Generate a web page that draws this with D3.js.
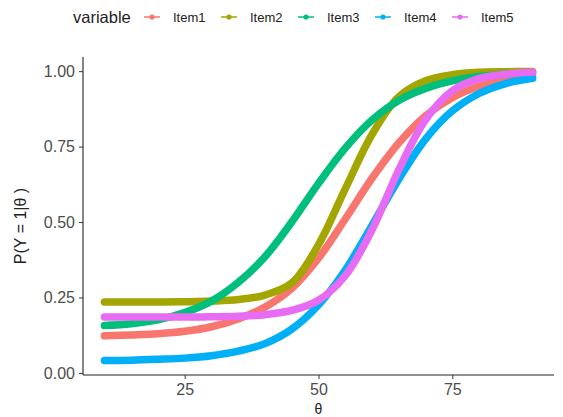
<!DOCTYPE html>
<html>
<head>
<meta charset="utf-8">
<script src="https://cdn.jsdelivr.net/npm/d3@7"></script>
<style>
  body { margin: 0; background: #fff; }
  text { font-family: "Liberation Sans", Arial, sans-serif; }
</style>
</head>
<body>
<script>
// Item characteristic curves

var theta = [10, 15, 20, 25, 30, 35, 40, 45, 50, 55, 60, 65, 70, 75, 80, 85, 90];

var item1 = [0.123, 0.126, 0.130, 0.138, 0.153, 0.179, 0.218, 0.280, 0.380, 0.510, 0.645, 0.762, 0.852, 0.912, 0.950, 0.972, 0.985];
var item2 = [0.235, 0.235, 0.235, 0.236, 0.238, 0.243, 0.258, 0.298, 0.425, 0.610, 0.790, 0.915, 0.968, 0.988, 0.996, 0.998, 0.999];
var item3 = [0.157, 0.163, 0.176, 0.200, 0.238, 0.300, 0.385, 0.500, 0.628, 0.745, 0.838, 0.903, 0.943, 0.968, 0.982, 0.990, 0.995];
var item4 = [0.041, 0.042, 0.045, 0.049, 0.057, 0.072, 0.097, 0.145, 0.225, 0.341, 0.489, 0.642, 0.775, 0.868, 0.926, 0.959, 0.976];
var item5 = [0.185, 0.185, 0.185, 0.185, 0.186, 0.188, 0.193, 0.207, 0.241, 0.322, 0.474, 0.673, 0.839, 0.935, 0.975, 0.990, 0.996];

var names = ["Item1", "Item2", "Item3", "Item4", "Item5"];
var colors = ["#F8766D", "#A3A500", "#00BF7D", "#00B0F6", "#E76BF3"];

var yTicks = [0, 0.25, 0.5, 0.75, 1];
var xTicks = [25, 50, 75];

// 1. Margins, width and height

var margin = {top: 57, right: 9, bottom: 42, left: 83},
    width = 563 - margin.left - margin.right,
    height = 417 - margin.top - margin.bottom;

var series = [item1, item2, item3, item4, item5].map(function(vals, i) {
  return {
    name: names[i],
    color: colors[i],
    values: vals.map(function(v, j) { return {t: theta[j], p: v}; })
  };
});

// 2. Scales (ggplot style 5% expansion)

var allP = [].concat(item1, item2, item3, item4, item5);
var pMin = d3.min(allP), pMax = d3.max(allP), pPad = (pMax - pMin) * 0.05;
var tMin = d3.min(theta), tMax = d3.max(theta), tPad = (tMax - tMin) * 0.05;

var x = d3.scaleLinear().domain([tMin - tPad, tMax + tPad]).range([0, width]);
var y = d3.scaleLinear().domain([pMin - pPad, pMax + pPad]).range([height, 0]);

// 3. SVG

var svg = d3.select("body").append("svg")
    .attr("width", 563)
    .attr("height", 417);

var g = svg.append("g")
    .attr("transform", "translate(" + margin.left + "," + margin.top + ")");

// Curves

var line = d3.line()
    .x(function(d) { return x(d.t); })
    .y(function(d) { return y(d.p); })
    .curve(d3.curveCatmullRom.alpha(0.5));

g.selectAll(".curve")
    .data(series)
    .enter().append("path")
    .attr("class", "curve")
    .attr("d", function(d) { return line(d.values); })
    .attr("fill", "none")
    .attr("stroke", function(d) { return d.color; })
    .attr("stroke-width", 7.5)
    .attr("stroke-linecap", "round")
    .attr("stroke-linejoin", "round");

// Axes

var yAxis = g.append("g")
    .call(d3.axisLeft(y).tickValues(yTicks).tickFormat(d3.format(".2f")).tickSize(4).tickPadding(4));
var xAxis = g.append("g")
    .attr("transform", "translate(0," + height + ")")
    .call(d3.axisBottom(x).tickValues(xTicks).tickFormat(d3.format("d")).tickSize(4).tickPadding(5));

[xAxis, yAxis].forEach(function(a) {
  a.select(".domain").attr("stroke", "#222").attr("stroke-width", 1.1)
      .attr("d", a === xAxis ? "M0,0H" + width : "M0,0V" + height);
  a.selectAll(".tick line").attr("stroke", "#333");
  a.selectAll(".tick text").attr("fill", "#4d4d4d").style("font-size", "16px")
      .style("font-family", "'Liberation Sans', Arial, sans-serif");
});

// Axis titles

svg.append("text")
    .attr("transform", "translate(26," + (margin.top + height / 2 + 10) + ") rotate(-90)")
    .attr("text-anchor", "middle")
    .attr("fill", "#222")
    .style("font-size", "16px")
    .text("P(Y = 1|\u03b8 )");

svg.append("text")
    .attr("x", margin.left + x(50))
    .attr("y", 414)
    .attr("text-anchor", "middle")
    .attr("fill", "#222")
    .style("font-size", "14px")
    .text("\u03b8");

// Legend

var legend = svg.append("g");

legend.append("text")
    .attr("x", 73)
    .attr("y", 23)
    .attr("fill", "#222")
    .style("font-size", "16.5px")
    .text("variable");

var keys = legend.selectAll(".key")
    .data(series)
    .enter().append("g")
    .attr("class", "key")
    .attr("transform", function(d, i) { return "translate(" + (144 + i * 77) + ",17)"; });

keys.append("line")
    .attr("x1", 0).attr("x2", 16)
    .attr("stroke", function(d) { return d.color; })
    .attr("stroke-width", 1.5);

keys.append("circle")
    .attr("cx", 8)
    .attr("r", 2.6)
    .attr("fill", function(d) { return d.color; });

keys.append("text")
    .attr("x", 29)
    .attr("y", 5)
    .attr("fill", "#222")
    .style("font-size", "13px")
    .text(function(d) { return d.name; });
</script>
</body>
</html>
